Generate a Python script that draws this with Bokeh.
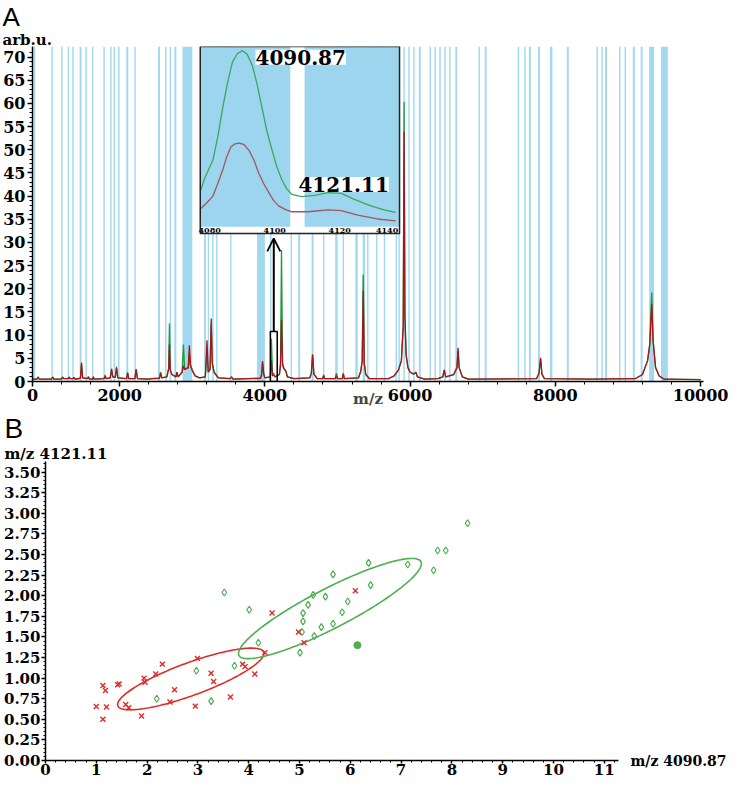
import numpy as np
from bokeh.plotting import figure
from bokeh.models import (Range1d, FixedTicker, PrintfTickFormatter, Label, Arrow, OpenHead,
                          Title, LinearAxis)
from bokeh.embed import file_html
from bokeh.resources import INLINE
from bokeh.core.properties import value

SERIF = "DejaVu Serif"
SANS = "Liberation Sans"

# ---------------- Panel A data ----------------
BAND_MZ = [827, 1070, 1205, 1295, 1358, 1462, 1538, 1628, 1786, 1880, 1927, 1988, 2105, 2213,
           2542, 2636, 2699, 2767, 2933, 3176, 3223, 3284, 3338, 3531, 3946, 4081, 4364, 4472,
           4657, 4810, 4985, 5080, 5262, 5363, 5417, 5539, 5647, 5809, 5849, 5917, 5984, 6052,
           6133, 6277, 6345, 6412, 6480, 6547, 6636, 6952, 7041, 7492, 7581, 7649, 7775, 7942,
           8171, 8576, 8644, 8698, 8887, 8963, 9080, 9188, 9325, 9501]
BAND_W = [20, 20, 20, 20, 20, 27, 20, 20, 20, 20, 20, 20, 27, 20,
          27, 20, 20, 27, 135, 27, 20, 20, 20, 20, 108, 20, 20, 27,
          27, 20, 34, 20, 34, 34, 20, 20, 20, 20, 20, 20, 20, 20,
          27, 20, 20, 20, 20, 20, 27, 20, 27, 20, 20, 27, 27, 34,
          27, 20, 20, 27, 20, 20, 27, 27, 68, 95]

SPEC_MZ = [800, 860, 877, 895, 1060, 1079, 1095, 1195, 1214, 1230, 1290, 1304, 1320, 1355, 1371, 1388,
           1460, 1475, 1490, 1555, 1570, 1585, 1625, 1637, 1650, 1785, 1799, 1815, 1870, 1889, 1905,
           1940, 1957, 1975, 2095, 2110, 2125, 2210, 2227, 2245, 2400, 2440, 2548, 2564, 2580, 2650,
           2675, 2686, 2697, 2720, 2775, 2789, 2805, 2860, 2879, 2895, 2945, 2960, 2975, 3000, 3040,
           3100, 3180, 3203, 3220, 3245, 3261, 3275, 3300, 3360, 3520, 3540, 3560, 3940, 3955, 3968,
           3985, 4000, 4075, 4090, 4105, 4121, 4140, 4200, 4215, 4229, 4243, 4260, 4290, 4310, 4400,
           4620, 4640, 4657, 4675, 4720, 4795, 4810, 4825, 4970, 4985, 5000, 5065, 5080, 5095, 5290,
           5320, 5340, 5354, 5368, 5390, 5440, 5700, 5780, 5840, 5880, 5905, 5917, 5928, 5945, 5970,
           6000, 6050, 6080, 6100, 6200, 6380, 6450, 6470, 6490, 6600, 6645, 6660, 6675, 6720, 6800,
           7740, 7775, 7797, 7815, 7850, 8500, 9100, 9200, 9270, 9300, 9327, 9345, 9380, 9430, 9500,
           10000]
GREEN_INT = [0.5, 0.5, 1.0, 0.5, 0.5, 1.0, 0.5, 0.5, 1.0, 0.6, 0.6, 1.0, 0.6, 0.6, 0.9, 0.5,
             0.7, 3.7, 0.8, 0.6, 1.0, 0.5, 0.5, 1.0, 0.5, 0.6, 1.4, 0.6, 0.8, 2.8, 1.0,
             0.9, 3.2, 0.8, 0.6, 2.0, 0.6, 0.6, 2.7, 0.6, 0.5, 0.6, 0.7, 2.0, 0.8, 1.0,
             2.8, 12.5, 2.5, 1.5, 1.0, 2.0, 1.0, 2.0, 8.0, 2.6, 3.0, 6.0, 3.5, 2.4, 1.2,
             0.8, 1.0, 6.5, 2.0, 2.6, 12.5, 4.0, 2.0, 0.8, 0.6, 1.0, 0.5, 0.7, 1.5, 4.0,
             1.5, 0.8, 1.0, 9.2, 1.6, 1.8, 1.0, 1.5, 4.0, 28.4, 4.0, 3.0, 2.2, 1.0, 0.6,
             0.8, 1.8, 5.8, 1.6, 0.6, 0.6, 1.5, 0.6, 0.6, 1.8, 0.6, 0.6, 1.7, 0.6, 0.8,
             2.2, 4.4, 23.1, 4.0, 1.5, 0.6, 0.6, 1.2, 2.5, 4.5, 12.0, 60.3, 14.5, 6.0, 3.0,
             2.0, 1.6, 2.0, 1.0, 0.5, 0.6, 1.0, 2.5, 1.0, 1.5, 3.0, 6.6, 3.0, 1.0, 0.5,
             0.6, 1.8, 4.8, 1.6, 0.6, 0.5, 0.6, 1.5, 4.5, 8.0, 19.2, 9.0, 3.0, 1.2, 0.5,
             0.4]
RED_INT = [0.5, 0.5, 0.9, 0.5, 0.5, 0.9, 0.5, 0.5, 0.9, 0.6, 0.6, 0.9, 0.6, 0.6, 0.9, 0.5,
           0.7, 4.1, 0.8, 0.6, 1.0, 0.5, 0.5, 1.0, 0.5, 0.6, 1.2, 0.6, 0.8, 2.6, 1.0,
           0.9, 2.9, 0.8, 0.6, 1.8, 0.6, 0.6, 2.6, 0.6, 0.5, 0.6, 0.7, 1.8, 0.8, 1.0,
           2.8, 8.0, 2.5, 1.5, 1.0, 2.0, 1.0, 2.0, 3.4, 2.6, 3.0, 7.8, 3.5, 2.4, 1.2,
           0.8, 1.0, 8.9, 2.0, 2.6, 13.6, 4.0, 2.0, 0.8, 0.6, 1.0, 0.5, 0.7, 1.5, 4.4,
           1.5, 0.8, 1.0, 4.5, 1.2, 1.4, 1.0, 1.5, 3.5, 13.3, 3.5, 2.8, 2.2, 1.0, 0.6,
           0.8, 1.8, 5.8, 1.6, 0.6, 0.6, 1.2, 0.6, 0.6, 1.3, 0.6, 0.6, 1.7, 0.6, 0.8,
           2.2, 4.4, 19.6, 4.0, 1.5, 0.6, 0.6, 1.2, 2.5, 4.5, 12.0, 54.0, 14.5, 5.5, 3.0,
           2.0, 1.6, 2.0, 1.0, 0.5, 0.6, 1.0, 2.5, 1.0, 1.5, 3.0, 7.3, 3.0, 1.0, 0.5,
           0.6, 1.8, 5.1, 1.6, 0.6, 0.5, 0.6, 1.5, 4.5, 8.0, 16.8, 9.0, 3.0, 1.2, 0.5,
           0.4]

A_Y_TICKS = list(range(0, 71, 5))
A_Y_MINOR = list(range(0, 72, 1))
A_X_TICKS = [800, 2000, 4000, 6000, 8000, 10000]
A_X_MINOR = list(range(800, 10001, 400))
A_X_LABELS = {800: "0"}

INSET_XR = (4077.1, 4138.4)
INSET_G_MZ = [4077.1, 4078.5, 4081.0, 4082.5, 4084.0, 4085.5, 4087.0, 4088.5, 4090.1, 4091.6,
              4093.1, 4094.6, 4096.1, 4097.6, 4099.2, 4100.7, 4102.2, 4103.7, 4105.3, 4108.3,
              4112.4, 4116.4, 4120.5, 4124.5, 4129.6, 4133.6, 4137.2]
INSET_G = [19.7, 27.0, 37.0, 50.0, 65.9, 80.0, 91.3, 96.0, 97.7, 95.5,
           89.5, 79.0, 65.9, 53.0, 42.4, 33.0, 26.1, 21.0, 17.9, 16.7,
           17.4, 18.9, 18.5, 15.2, 11.6, 9.4, 8.0]
INSET_R_MZ = [4077.1, 4079.0, 4081.0, 4082.5, 4084.0, 4085.2, 4086.5, 4087.8, 4089.1, 4090.6,
              4092.1, 4093.6, 4095.1, 4096.6, 4098.2, 4099.7, 4101.2, 4103.2, 4105.3, 4110.3,
              4116.4, 4120.5, 4125.5, 4131.6, 4137.2]
INSET_R = [9.8, 13.0, 17.0, 24.0, 31.5, 38.5, 44.2, 46.0, 46.4, 45.5,
           42.4, 37.0, 29.7, 24.0, 18.9, 14.5, 11.6, 9.6, 8.3, 8.3,
           9.4, 8.9, 6.5, 4.3, 3.3]
INSET_BAND_L = [4077.1, 4109.2]
INSET_BAND_R = [4104.8, 4138.4]
INSET_TICKS = [4080, 4100, 4120, 4140]
PEAK_LABELS = ["4090.87", "4121.11"]
PEAK_LABEL_MZ = [4108.0, 4121.2]
PEAK_LABEL_Y = [94.0, 23.5]
ZOOM_BOX = (4075, 4170, 10.8)

# ---------------- Panel B data ----------------
RED_X = [1.00, 1.20, 1.13, 1.13, 1.18, 1.42, 1.45, 1.58, 1.64, 1.89, 1.94, 1.96, 2.17, 2.30, 2.54,
         2.45, 2.95, 2.99, 3.26, 3.31, 3.64, 3.88, 3.93, 4.12, 4.32, 4.46, 4.98, 5.09, 6.10]
RED_Y = [0.655, 0.65, 0.50, 0.91, 0.85, 0.92, 0.93, 0.68, 0.64, 0.54, 1.00, 0.95, 1.05, 1.17, 0.86,
         0.71, 0.66, 1.24, 1.06, 0.96, 0.77, 1.17, 1.14, 1.05, 1.31, 1.79, 1.56, 1.43, 2.06]
GREEN_X = [3.52, 4.01, 4.19, 3.72, 2.97, 2.19, 3.26, 5.07, 5.17, 5.27, 5.51, 5.66, 5.07, 5.05,
           5.29, 5.43, 5.66, 5.84, 5.95, 6.40, 6.36, 5.01, 7.13, 7.64, 7.72, 7.88, 8.31]
GREEN_Y = [2.04, 1.83, 1.43, 1.15, 1.09, 0.75, 0.72, 1.79, 1.89, 2.01, 1.99, 2.26, 1.69, 1.56,
           1.51, 1.62, 1.66, 1.80, 1.93, 2.13, 2.40, 1.31, 2.38, 2.31, 2.55, 2.55, 2.88]
GREEN_FILLED_X = [6.14]
GREEN_FILLED_Y = [1.40]
RED_ELL = dict(c=(2.86, 0.99), a=(1.44, 0.31), b=(0.0, 0.21))
GREEN_ELL = dict(c=(5.60, 1.845), a=(1.80, 0.545), b=(0.0, 0.27))
B_X_TICKS = list(range(0, 12))
B_X_MINOR = [round(0.2 * i, 1) for i in range(0, 57)]
B_Y_TICKS = [0.25 * i for i in range(0, 15)]
B_Y_MINOR = [round(0.05 * i, 2) for i in range(0, 73)]
B_X_NAME = "m/z 4090.87"
B_Y_NAME = "m/z 4121.11"

GREEN = "#1f9a3a"
RED = "#a8141c"
BAND = "#a3d9f0"
INSET_BLUE = "#9dd5ee"
SC_RED = "#e02a2a"
SC_GREEN = "#4caf50"


def style_axis(ax, size, tick_out=5, standoff=2):
    ax.axis_line_color = "black"
    ax.axis_line_width = 1.5
    ax.major_tick_line_color = "black"
    ax.minor_tick_line_color = "black"
    ax.major_tick_line_width = 1.5
    ax.major_tick_out = tick_out
    ax.major_tick_in = 0
    ax.minor_tick_out = 3
    ax.minor_tick_in = 0
    ax.major_label_text_font = SERIF
    ax.major_label_text_font_style = "bold"
    ax.major_label_text_font_size = size
    ax.major_label_text_color = "black"
    ax.major_label_standoff = standoff


def add_title(p, text, font, size, style, offset, standoff=0):
    p.add_layout(Title(text=text, align="left", offset=offset, text_font=font,
                       text_font_size=size, text_font_style=style, text_color="black",
                       standoff=standoff), "above")


# ---------------- Figure A ----------------
A_W, A_H = 729, 410
A_L, A_R, A_T, A_B = 30, 26, 36, 0
Y_TOP = 72.3

F_L, F_R, F_PB, F_BB = 0.25, 0.547, 0.538, 0.558
span_x = (INSET_XR[1] - INSET_XR[0]) / (F_R - F_L)
ix0 = INSET_XR[0] - F_L * span_x
span_y = 100.0 / F_PB
box_bottom = 100.0 - F_BB * span_y

pA = figure(width=A_W, height=A_H, x_range=Range1d(800, 10040), y_range=Range1d(0, Y_TOP),
            output_backend="svg", toolbar_location=None,
            min_border_left=A_L, min_border_right=A_R, min_border_top=A_T, min_border_bottom=A_B)
pA.extra_x_ranges = {"ix": Range1d(ix0, ix0 + span_x)}
pA.extra_y_ranges = {"iy": Range1d(100.0 - span_y, 100.0)}
pA.outline_line_color = None
pA.grid.visible = False

pA.xaxis.ticker = FixedTicker(ticks=A_X_TICKS, minor_ticks=A_X_MINOR)
pA.xaxis.major_label_overrides = A_X_LABELS
pA.yaxis.ticker = FixedTicker(ticks=A_Y_TICKS, minor_ticks=A_Y_MINOR)
style_axis(pA.xaxis[0], "16px")
style_axis(pA.yaxis[0], "16px")
pA.xaxis.axis_label = "m/z"
pA.xaxis.axis_label_text_font = SERIF
pA.xaxis.axis_label_text_font_style = "bold"
pA.xaxis.axis_label_text_font_size = "15px"
pA.xaxis.axis_label_standoff = -14

pA.vbar(x=BAND_MZ, width=BAND_W, top=Y_TOP, bottom=0, fill_color=BAND, line_color=None)
pA.line(SPEC_MZ, GREEN_INT, line_color=GREEN, line_width=1.3)
pA.line(SPEC_MZ, RED_INT, line_color=RED, line_width=1.3)

pA.quad(left=[ZOOM_BOX[0]], right=[ZOOM_BOX[1]], bottom=[0], top=[ZOOM_BOX[2]],
        fill_color=None, line_color="black", line_width=1.5)
arrow_x = 0.5 * (ZOOM_BOX[0] + ZOOM_BOX[1])
pA.add_layout(Arrow(end=OpenHead(size=13, line_width=1.8, line_color="black"),
                    x_start=arrow_x, y_start=ZOOM_BOX[2], x_end=arrow_x,
                    y_end=Y_TOP * (1 - F_BB - 0.015), line_width=2, line_color="black"))

kw = dict(x_range_name="ix", y_range_name="iy")
pA.quad(left=[INSET_XR[0]], right=[INSET_XR[1]], bottom=[box_bottom], top=[100],
        fill_color="white", line_color=None, **kw)
pA.quad(left=INSET_BAND_L, right=INSET_BAND_R, bottom=0, top=100,
        fill_color=INSET_BLUE, line_color=None, **kw)
pA.line(INSET_G_MZ, INSET_G, line_color="#3aa85a", line_width=1.3, line_join="round", **kw)
pA.line(INSET_R_MZ, INSET_R, line_color="#a45462", line_width=1.3, line_join="round", **kw)
pA.text(x=INSET_TICKS[:-1], y=[0.5 * box_bottom] * 3, text=[str(t) for t in INSET_TICKS[:-1]],
        text_font=value(SERIF), text_font_style="bold", text_font_size="8px",
        text_align="center", text_baseline="middle", **kw)
pA.text(x=[INSET_XR[1] - 0.4], y=[0.5 * box_bottom], text=[str(INSET_TICKS[-1])],
        text_font=value(SERIF), text_font_style="bold", text_font_size="8px",
        text_align="right", text_baseline="middle", **kw)
pA.quad(left=[INSET_XR[0]], right=[INSET_XR[1]], bottom=[box_bottom], top=[100],
        fill_color=None, line_color="#222222", line_width=1.5, **kw)
for txt, xm, ym in zip(PEAK_LABELS, PEAK_LABEL_MZ, PEAK_LABEL_Y):
    pA.add_layout(Label(x=xm, y=ym, text=txt, x_range_name="ix", y_range_name="iy",
                        text_align="center", text_baseline="alphabetic",
                        text_font=SERIF, text_font_style="bold", text_font_size="20px",
                        background_fill_color="white", text_color="black"))

add_title(pA, "arb.u.", SERIF, "15px", "bold", -A_L, standoff=-4)
add_title(pA, "A", SANS, "26px", "normal", -A_L, standoff=-2)

# ---------------- Figure B ----------------
B_W, B_H = 729, 367
B_L, B_R, B_T, B_B = 41, 104, 50, 0
Y_B_TOP = 3.63
pB = figure(width=B_W, height=B_H, x_range=Range1d(0, 11.28), y_range=Range1d(0, Y_B_TOP),
            output_backend="svg", toolbar_location=None,
            min_border_left=B_L, min_border_right=B_R, min_border_top=B_T, min_border_bottom=B_B)
pB.outline_line_color = None
pB.grid.visible = False
pB.xaxis.ticker = FixedTicker(ticks=B_X_TICKS, minor_ticks=B_X_MINOR)
pB.yaxis.ticker = FixedTicker(ticks=B_Y_TICKS, minor_ticks=B_Y_MINOR)
pB.xaxis.formatter = PrintfTickFormatter(format="%d")
pB.yaxis.formatter = PrintfTickFormatter(format="%.2f")
style_axis(pB.xaxis[0], "15px", tick_out=3, standoff=0)
style_axis(pB.yaxis[0], "15px", tick_out=4, standoff=1)
pB.xaxis.minor_tick_out = 2
pB.yaxis.minor_tick_out = 2

t = np.linspace(0, 2 * np.pi, 240)
for ell, col in ((RED_ELL, SC_RED), (GREEN_ELL, SC_GREEN)):
    ex = ell["c"][0] + ell["a"][0] * np.cos(t) + ell["b"][0] * np.sin(t)
    ey = ell["c"][1] + ell["a"][1] * np.cos(t) + ell["b"][1] * np.sin(t)
    pB.line(ex, ey, line_color=col, line_width=1.6)

pB.scatter(GREEN_X, GREEN_Y, marker="diamond", size=7, fill_color=None,
           line_color=SC_GREEN, line_width=1.2)
pB.scatter(GREEN_FILLED_X, GREEN_FILLED_Y, marker="circle", size=7,
           fill_color=SC_GREEN, line_color=SC_GREEN)
pB.scatter(RED_X, RED_Y, marker="x", size=7, line_color=SC_RED, line_width=1.4)

add_title(pB, B_Y_NAME, SERIF, "15px", "bold", -B_L, standoff=-2)
add_title(pB, "B", SANS, "28px", "normal", -B_L, standoff=0)

pB.extra_y_ranges = {"xname": Range1d(0, Y_B_TOP)}
name_axis = LinearAxis(y_range_name="xname", ticker=FixedTicker(ticks=[0], minor_ticks=[]),
                       major_label_overrides={0: B_X_NAME})
name_axis.axis_line_color = None
name_axis.major_tick_line_color = None
name_axis.minor_tick_line_color = None
name_axis.major_label_standoff = 6
name_axis.major_label_text_font = SERIF
name_axis.major_label_text_font_style = "bold"
name_axis.major_label_text_font_size = "14px"
name_axis.major_label_text_color = "black"
pB.add_layout(name_axis, "right")

open("out.html", "w").write(file_html([pA, pB], INLINE))
